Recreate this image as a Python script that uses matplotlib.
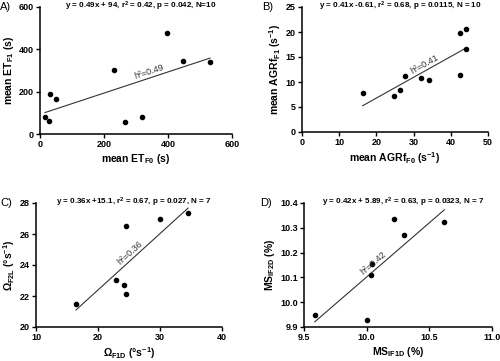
import numpy as np
import matplotlib
matplotlib.use("Agg")
import matplotlib.pyplot as plt

plt.rcParams['font.family'] = ['Liberation Sans', 'DejaVu Sans']
plt.rcParams['mathtext.fontset'] = 'custom'
plt.rcParams['mathtext.rm'] = 'Liberation Sans:bold'
plt.rcParams['mathtext.it'] = 'Liberation Sans:bold'
plt.rcParams['mathtext.bf'] = 'Liberation Sans:bold'

# A) exploration time
a_x = [15.6, 28, 31, 50, 231, 267, 320, 396, 447, 531]
a_y = [78, 61, 187, 163, 303, 58, 82, 477, 343, 339]
# B) AGRf
b_x = [16.3, 24.6, 26.4, 27.8, 32.1, 34.2, 42.4, 42.4, 44.0, 44.2]
b_y = [7.8, 7.1, 8.3, 11.2, 10.7, 10.3, 11.4, 19.7, 20.7, 16.5]
# C) Omega
c_x = [16.45, 22.96, 24.25, 24.57, 24.46, 29.95, 34.52]
c_y = [21.48, 23.03, 22.73, 22.13, 26.52, 26.97, 27.38]
# D) MS
d_x = [9.586, 10.0, 10.037, 10.045, 10.22, 10.30, 10.62]
d_y = [9.948, 9.928, 10.108, 10.154, 10.334, 10.271, 10.322]

panels = [
    dict(x=a_x, y=a_y, tag='A)', h2='h²=0.49', hx=345, tagx=0,
         title='y = 0.49x + 94, r$^2$ = 0.42, p = 0.042, N=10',
         xlabel='mean ET$_{F0}$ (s)', ylabel='mean ET$_{F1}$ (s)',
         xt=[0, 200, 400, 600], yt=[0, 200, 400, 600], fmt='{:.0f}',
         rect=[40, 7, 232, 134]),
    dict(x=b_x, y=b_y, tag='B)', h2='h²=0.41', hx=33.5, tagx=262,
         title='y = 0.41x -0.61, r$^2$ = 0.68, p = 0.0115, N = 10',
         xlabel='mean AGRf$_{F0}$ (s$^{-1}$)', ylabel='mean AGRf$_{F1}$ (s$^{-1}$)',
         xt=[0, 10, 20, 30, 40, 50], yt=[0, 5, 10, 15, 20, 25], fmt='{:.0f}',
         rect=[302, 7, 488, 132]),
    dict(x=c_x, y=c_y, tag='C)', h2='h²=0.36', hx=25.6, tagx=0,
         title='y = 0.36x +15.1, r$^2$ = 0.67, p = 0.027, N = 7',
         xlabel='Ω$_{F1D}$ (°s$^{-1}$)', ylabel='Ω$_{F2L}$ (°s$^{-1}$)',
         xt=[10, 20, 30, 40], yt=[20, 22, 24, 26, 28], fmt='{:.0f}',
         rect=[36, 203, 222, 327]),
    dict(x=d_x, y=d_y, tag='D)', h2='h²=0.42', hx=10.08, tagx=260,
         title='y = 0.42x + 5.89, r$^2$ = 0.63, p = 0.0323, N = 7',
         xlabel='MS$_{IF1D}$ (%)', ylabel='MS$_{IF2D}$ (%)',
         xt=[9.5, 10.0, 10.5, 11.0], yt=[9.9, 10.0, 10.1, 10.2, 10.3, 10.4],
         fmt='{:.1f}', rect=[304, 203, 492, 327]),
]

W, H = 500, 361
fig = plt.figure(figsize=(5, 3.61), dpi=100)

for p in panels:
    l, t, r, b = p['rect']
    ax = fig.add_axes([l / W, (H - b) / H, (r - l) / W, (b - t) / H])
    x = np.array(p['x'])
    y = np.array(p['y'])
    ax.scatter(x, y, s=9, color='black', zorder=3, clip_on=False)
    k, c0 = np.polyfit(x, y, 1)
    xs = np.array([x.min(), x.max()])
    ax.plot(xs, k * xs + c0, color='#333333', lw=0.8)
    ax.set_xlim(p['xt'][0], p['xt'][-1])
    ax.set_ylim(p['yt'][0], p['yt'][-1])
    ax.set_xticks(p['xt'])
    ax.set_yticks(p['yt'])
    ax.set_xticklabels([p['fmt'].format(v) for v in p['xt']])
    ax.set_yticklabels([p['fmt'].format(v) for v in p['yt']])
    ax.tick_params(labelsize=6.5, length=3, width=1, pad=1.5)
    for lab in ax.get_xticklabels() + ax.get_yticklabels():
        lab.set_fontweight('bold')
    for s in ['top', 'right']:
        ax.spines[s].set_visible(False)
    for s in ['left', 'bottom']:
        ax.spines[s].set_linewidth(1.1)
    ax.set_xlabel(p['xlabel'], fontsize=7.5, fontweight='bold', labelpad=2)
    ax.set_ylabel(p['ylabel'], fontsize=7.5, fontweight='bold', labelpad=2)

    # heritability label along the line
    p0 = ax.transData.transform((xs[0], k * xs[0] + c0))
    p1 = ax.transData.transform((xs[1], k * xs[1] + c0))
    ang = np.degrees(np.arctan2(p1[1] - p0[1], p1[0] - p0[0]))
    ax.annotate(p['h2'], (p['hx'], k * p['hx'] + c0), xytext=(0, 1.5),
                textcoords='offset points', rotation=ang, rotation_mode='anchor',
                ha='center', va='bottom', fontsize=6.5, color='#333333')

    fig.text(((l + r) / 2 + 5) / W, (H - t + 1) / H, p['title'], fontsize=5.8,
             fontweight='bold', ha='center', va='center')
    fig.text(p['tagx'] / W, (H - t) / H, p['tag'], fontsize=8,
             ha='left', va='center')

fig.savefig('out.png', dpi=100)
